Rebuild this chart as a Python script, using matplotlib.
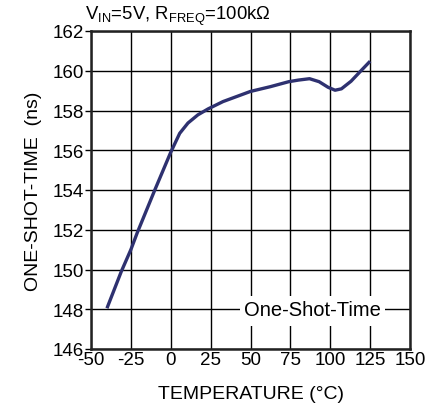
import matplotlib
matplotlib.use("Agg")
import matplotlib.pyplot as plt
from matplotlib.patches import Rectangle

plt.rcParams['font.family'] = ['Liberation Sans', 'DejaVu Sans']
plt.rcParams['mathtext.fontset'] = 'custom'
plt.rcParams['mathtext.rm'] = 'Liberation Sans'
plt.rcParams['mathtext.it'] = 'Liberation Sans:italic'
plt.rcParams['axes.unicode_minus'] = False

temperature = [-40, -31, -25, -21, -10, -5, 0, 5.6, 10.8, 17, 23.4, 32.8, 50, 62.5, 74,
               80, 87, 93, 98.6, 103, 107, 113, 119.5, 125]
one_shot_time = [148.05, 149.9, 151.0, 151.85, 154.0, 154.95, 155.9, 156.85, 157.37, 157.78,
                 158.08, 158.45, 158.96, 159.2, 159.45, 159.53, 159.6, 159.45, 159.17,
                 159.02, 159.09, 159.47, 160.02, 160.48]
x_ticks = [-50, -25, 0, 25, 50, 75, 100, 125, 150]
y_ticks = [146, 148, 150, 152, 154, 156, 158, 160, 162]

fig = plt.figure(figsize=(4.25, 4.06), dpi=100)
ax = fig.add_axes([91/425, 1-350/406, (410-91)/425, (350-32)/406])

ax.plot(temperature, one_shot_time, color='#2e3170', lw=2.4,
        solid_capstyle='butt', solid_joinstyle='round', zorder=3)

ax.set_xlim(-50, 150)
ax.set_ylim(146, 162)
ax.set_xticks(x_ticks)
ax.set_yticks(y_ticks)
ax.grid(True, color='black', lw=1.0)
ax.set_axisbelow(True)
for s in ax.spines.values():
    s.set_linewidth(1.8)
    s.set_color('#222222')
ax.tick_params(axis='x', length=0, pad=1.5, labelsize=13.5)
ax.tick_params(axis='y', length=4, width=1, pad=1, labelsize=13.5, direction='out')

ax.set_xlabel('TEMPERATURE (°C)', fontsize=14, labelpad=12.5)
ax.set_ylabel('ONE-SHOT-TIME  (ns)', fontsize=14, labelpad=8)

# legend-like label with white box interrupting the grid
ax.add_patch(Rectangle((43.4, 147.15), 134.3 - 43.4, 148.66 - 147.15,
                       facecolor='white', edgecolor='none', zorder=2))
ax.text(89, 148.0, 'One-Shot-Time', ha='center', va='center', fontsize=14.5, zorder=4)

fig.text(85/425, 1-20/406, r'V$_{\mathrm{IN}}$=5V, R$_{\mathrm{FREQ}}$=100kΩ', fontsize=13.3,
         ha='left', va='baseline')

fig.savefig('out.png', dpi=100)
